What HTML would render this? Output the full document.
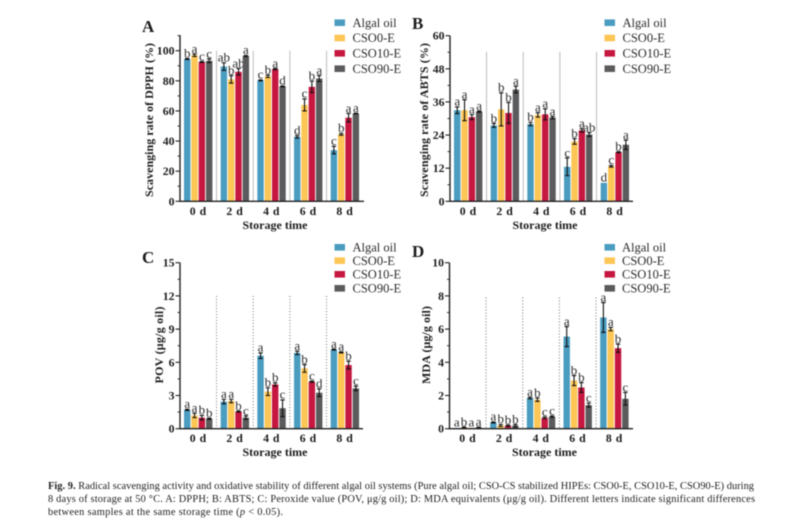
<!DOCTYPE html>
<html lang="en">
<head>
<meta charset="utf-8">
<title>Fig. 9 radical scavenging and oxidative stability</title>
<style>
html,body{margin:0;padding:0;background:#fff;width:804px;height:528px;overflow:hidden}
svg{display:block;filter:blur(.5px)}
text{font-family:"Liberation Serif",serif;fill:#1c1c1c}
.tick{font-weight:bold;font-size:11.8px}
.title{font-weight:bold;font-size:12px}
.letter{font-size:13px;text-anchor:middle;fill:#2b2b2b}
.legend{font-size:12.5px;fill:#2b2b2b}
.cap{font-size:10.4px;fill:#222}
</style>
</head>
<body>
<svg id="figure" xmlns="http://www.w3.org/2000/svg" width="804" height="528" viewBox="0 0 804 528">
  <rect width="804" height="528" fill="#fff"></rect>
  <text class="cap" x="48" y="489" textLength="706" lengthAdjust="spacing"><tspan font-weight="bold">Fig. 9.</tspan>  Radical scavenging activity and oxidative stability of different algal oil systems (Pure algal oil; CSO-CS stabilized HIPEs: CSO0-E, CSO10-E, CSO90-E) during</text>
  <text class="cap" x="48" y="502" textLength="707" lengthAdjust="spacing">8 days of storage at 50 °C. A: DPPH; B: ABTS; C: Peroxide value (POV, μg/g oil); D: MDA equivalents (μg/g oil). Different letters indicate significant differences</text>
  <text class="cap" x="48" y="515" textLength="235" lengthAdjust="spacing">between samples at the same storage time (<tspan font-style="italic">p</tspan> &lt; 0.05).</text>
</svg>
<script>
const categories = ['0 d', '2 d', '4 d', '6 d', '8 d'];
const seriesNames = ['Algal oil', 'CSO0-E', 'CSO10-E', 'CSO90-E'];
const seriesColors = ['#4a9cc0', '#fdc655', '#c5173f', '#5b5b5d'];

const dpphTicks = [0, 20, 40, 60, 80, 100];
const dpphValues = [[94.5, 97, 92.5, 93.3], [89.5, 81, 86, 96.5], [80.3, 83, 87.8, 76.3], [42.8, 64, 76, 81.5], [34, 44.5, 55.5, 58.3]];
const dpphErrors = [[0.3, 0.8, 0.3, 1.2], [2.5, 2.5, 2.2, 0.4], [0.3, 0.8, 0.4, 0.3], [0.8, 4, 3.8, 2], [2.5, 0.6, 2.8, 0.2]];
const dpphLetters = [['b', 'a', 'c', 'c'], ['ab', 'b', 'ab', 'a'], ['c', 'b', 'a', 'd'], ['d', 'c', 'b', 'a'], ['c', 'b', 'a', 'a']];

const abtsTicks = [0, 12, 24, 36, 48, 60];
const abtsValues = [[33, 33, 30.5, 32.5], [27.5, 33.3, 32, 40.5], [28, 31.3, 31.5, 30.3], [12.5, 21.7, 25.7, 24.2], [6.7, 12.7, 17.8, 20.5]];
const abtsErrors = [[1.2, 3.8, 0.9, 0.2], [0.7, 6, 3.8, 1.2], [0.6, 0.8, 2, 0.4], [3.2, 1, 0.6, 0.7], [0, 0.3, 0.2, 1.7]];
const abtsLetters = [['a', 'a', 'a', 'a'], ['b', 'b', 'b', 'a'], ['b', 'a', 'a', 'a'], ['c', 'b', 'a', 'ab'], ['d', 'c', 'b', 'a']];

const povTicks = [0, 3, 6, 9, 12, 15];
const povValues = [[1.7, 1.2, 1, 0.9], [2.45, 2.5, 1.55, 1], [6.6, 3.35, 4, 1.85], [6.85, 5.45, 4.25, 3.25], [7.15, 6.9, 5.75, 3.65]];
const povErrors = [[0.05, 0.2, 0.2, 0.05], [0.2, 0.15, 0.05, 0.15], [0.25, 0.35, 0.15, 0.75], [0.15, 0.35, 0.05, 0.35], [0.05, 0.05, 0.35, 0.2]];
const povLetters = [['a', 'a', 'b', 'b'], ['a', 'a', 'b', 'c'], ['a', 'b', 'b', 'c'], ['a', 'b', 'c', 'd'], ['a', 'a', 'b', 'c']];

const mdaTicks = [0, 2, 4, 6, 8, 10];
const mdaValues = [[0.05, 0.08, 0.05, 0.07], [0.38, 0.2, 0.18, 0.18], [1.85, 1.75, 0.65, 0.72], [5.55, 2.9, 2.48, 1.42], [6.7, 6, 4.85, 1.8]];
const mdaErrors = [[0, 0.02, 0, 0.02], [0.03, 0.06, 0.04, 0.07], [0.05, 0.1, 0.05, 0.04], [0.6, 0.3, 0.3, 0.12], [0.9, 0.1, 0.25, 0.38]];
const mdaLetters = [['a', 'b', 'a', 'a'], ['a', 'b', 'b', 'b'], ['a', 'b', 'c', 'c'], ['a', 'b', 'b', 'c'], ['a', 'a', 'b', 'c']];

const panels = [
  {key: 'a', label: 'A', lx: 142, ly: 32, left: 180, right: 364, base: 201.3, top: 50.7, topVal: 100, axisTop: 35, ymax: 110,
   ticks: dpphTicks, values: dpphValues, errors: dpphErrors, letters: dpphLetters, sepTop: 50.7, dotted: false,
   title: 'Scavenging rate of DPPH (%)', titleX: 153, titleY: 120, titleLen: 154, xTitleY: 229, xTickY: 215, legX: 334.5, legY: [22.7, 38, 53.3, 68.7], legTextX: 352.5},
  {key: 'b', label: 'B', lx: 412, ly: 29, left: 450, right: 633, base: 201.3, top: 35.7, topVal: 60, axisTop: 35.7, ymax: 60,
   ticks: abtsTicks, values: abtsValues, errors: abtsErrors, letters: abtsLetters, sepTop: 51.7, dotted: false,
   title: 'Scavenging rate of ABTS (%)', titleX: 428, titleY: 120, titleLen: 154, xTitleY: 229, xTickY: 215, legX: 604.5, legY: [22.7, 38, 53.3, 68.7], legTextX: 622.5},
  {key: 'c', label: 'C', lx: 142, ly: 263, left: 180, right: 363, base: 428.7, top: 262.7, topVal: 15, axisTop: 262.7, ymax: 15,
   ticks: povTicks, values: povValues, errors: povErrors, letters: povLetters, sepTop: 296, dotted: true,
   title: 'POV (μg/g oil)', titleX: 163, titleY: 345, titleLen: 77, xTitleY: 456, xTickY: 442, legX: 334.5, legY: [247.3, 260.7, 274.3, 288.3], legTextX: 352.5},
  {key: 'd', label: 'D', lx: 412, ly: 257, left: 449.5, right: 633, base: 428.7, top: 262.7, topVal: 10, axisTop: 262.7, ymax: 10,
   ticks: mdaTicks, values: mdaValues, errors: mdaErrors, letters: mdaLetters, sepTop: 297.5, dotted: true,
   title: 'MDA (μg/g oil)', titleX: 430, titleY: 345, titleLen: 78, xTitleY: 456, xTickY: 442, legX: 604.5, legY: [247.3, 260.7, 274.3, 288.3], legTextX: 622}
];

const NS = 'http://www.w3.org/2000/svg';
const root = document.getElementById('figure');

function mk(parent, tag, attrs, content) {
  const el = document.createElementNS(NS, tag);
  for (const k in attrs) el.setAttribute(k, attrs[k]);
  if (content !== undefined) el.textContent = content;
  parent.appendChild(el);
  return el;
}

function drawPanel(p) {
  const g = mk(root, 'g', {});
  
  

  const groupStep = 36.67;
  const barStep = 7.33;
  const barWidth = 6.4;
  const firstGroup = p.left + 18.2;
  const yScale = v => p.base - (v / p.topVal) * (p.base - p.top);
  const groupX = i => firstGroup + i * groupStep;
  const barX = (i, s) => groupX(i) + (s - 1.5) * barStep;

  const panelLabel = mk(g, 'text', {x: p.lx, y: p.ly, 'font-weight': 'bold', 'font-size': 17}, p.label);
  
  

  categories.forEach((c, i) => {
    if (i === 0) return;
    const sx = groupX(i) - groupStep / 2;
    const sep = mk(g, 'line', {x1: sx, x2: sx, y1: p.sepTop, y2: p.base,
      stroke: p.dotted ? '#666' : '#bdbdbd', 'stroke-width': p.dotted ? 0.9 : 1, 'stroke-dasharray': p.dotted ? '1 2' : 'none'});
    
    
  });

  p.values.forEach((group, i) => {
    group.forEach((v, s) => {
      const cx = barX(i, s);
      const bar = mk(g, 'rect', {x: cx - barWidth / 2, y: yScale(v), width: barWidth, height: p.base - yScale(v), fill: seriesColors[s]});
      
      

      const e = p.errors[i][s];
      const hi = yScale(v + e);
      const lo = yScale(v - e);
      if (e > 0) {
        const err = mk(g, 'path', {d: 'M' + (cx - 2.2) + ' ' + hi + 'H' + (cx + 2.2) + 'M' + cx + ' ' + hi + 'V' + lo + 'M' + (cx - 2.2) + ' ' + lo + 'H' + (cx + 2.2),
          stroke: '#111', 'stroke-width': 1.1, fill: 'none'});
        
        
      }

      const letter = mk(g, 'text', {class: 'letter', x: cx, y: hi - 1.2}, p.letters[i][s]);
      
      
    });
  });

  const yAxis = mk(g, 'line', {x1: p.left, x2: p.left, y1: p.axisTop, y2: p.base + 0.7, stroke: '#222', 'stroke-width': 1.4});
  
  
  const xAxis = mk(g, 'line', {x1: p.left - 0.6, x2: p.right, y1: p.base, y2: p.base, stroke: '#222', 'stroke-width': 1.4});
  
  

  const minorStep = (p.ticks[1] - p.ticks[0]) / 2;
  for (let v = minorStep; v <= p.ymax + 1e-6; v += minorStep * 2) {
    const m = mk(g, 'line', {x1: p.left - 2.5, x2: p.left, y1: yScale(v), y2: yScale(v), stroke: '#222', 'stroke-width': 0.9});
    
    
  }
  p.ticks.forEach(t => {
    const y = yScale(t);
    const tk = mk(g, 'line', {x1: p.left - 4.5, x2: p.left, y1: y, y2: y, stroke: '#222', 'stroke-width': 1.1});
    
    
    const lb = mk(g, 'text', {class: 'tick', x: p.left - 5.5, y: y + 4, 'text-anchor': 'end'}, t);
    
    
  });

  categories.forEach((c, i) => {
    const lb = mk(g, 'text', {class: 'tick', x: groupX(i), y: p.xTickY, 'text-anchor': 'middle', 'letter-spacing': '0.5'}, c);
    
    
  });

  const xt = mk(g, 'text', {class: 'title', x: p.left + 95, y: p.xTitleY, 'text-anchor': 'middle', textLength: 65}, 'Storage time');
  
  

  const yt = mk(g, 'text', {class: 'title', transform: 'translate(' + p.titleX + ' ' + p.titleY + ') rotate(-90)', 'text-anchor': 'middle', textLength: p.titleLen}, p.title);
  
  

  seriesNames.forEach((n, s) => {
    const entry = mk(g, 'g', {});
    
    
    mk(entry, 'rect', {x: p.legX, y: p.legY[s] - 3.3, width: 10.5, height: 6.6, fill: seriesColors[s]});
    mk(entry, 'text', {class: 'legend', x: p.legTextX, y: p.legY[s] + 4.2}, n);
  });
}

panels.forEach(drawPanel);
</script>
</body>
</html>
